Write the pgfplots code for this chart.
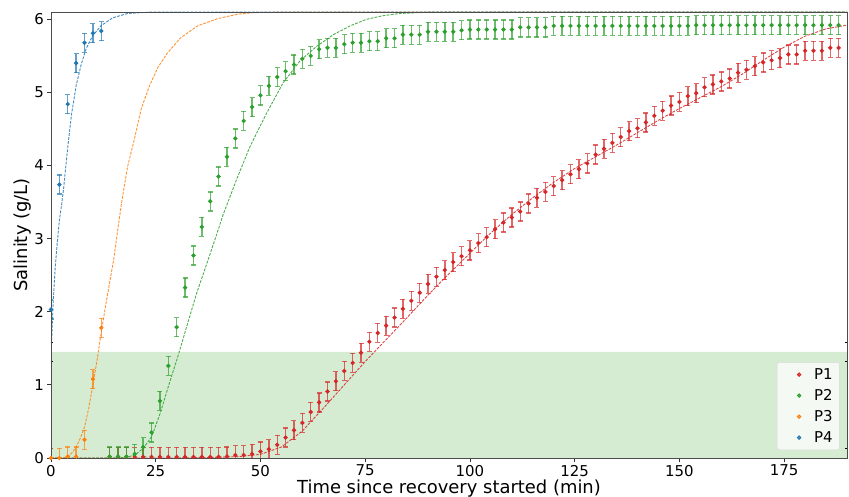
\documentclass[border=0pt]{standalone}
\usepackage{pgfplots}
\pgfplotsset{compat=1.18}
\usepackage{pgfplotstable}
\usepackage{fontspec}
\setmainfont{DejaVu Sans}
\definecolor{tabred}{HTML}{D62728}
\definecolor{tabgreen}{HTML}{2CA02C}
\definecolor{taborange}{HTML}{FF7F0E}
\definecolor{tabblue}{HTML}{1F77B4}
\definecolor{bandgreen}{RGB}{213,236,210}

\pgfplotstableread{
x y
14 0.015
16 0.015
18 0.015
20 0.015
22 0.015
24 0.015
26 0.015
28 0.015
30 0.015
32 0.015
34 0.015
36 0.015
38 0.015
40 0.015
42 0.02
44 0.04
46 0.04
48 0.055
50 0.09
52 0.12
54 0.18
56 0.28
58 0.38
60 0.48
62 0.63
64 0.76
66 0.91
68 1.05
70 1.19
72 1.30
74 1.44
76 1.59
78 1.71
80 1.81
82 1.92
84 2.04
86 2.15
88 2.26
90 2.38
92 2.48
94 2.57
96 2.68
98 2.76
100 2.84
102 2.94
104 3.02
106 3.13
108 3.22
110 3.29
112 3.37
114 3.48
116 3.56
118 3.64
120 3.72
122 3.80
124 3.88
126 3.95
128 4.03
130 4.15
132 4.23
134 4.31
136 4.39
138 4.47
140 4.51
142 4.59
144 4.68
146 4.75
148 4.82
150 4.87
152 4.95
154 4.99
156 5.07
158 5.11
160 5.15
162 5.19
164 5.27
166 5.31
168 5.36
170 5.41
172 5.44
174 5.47
176 5.52
178 5.52
180 5.57
182 5.57
184 5.57
186 5.61
188 5.61
}\pone

\pgfplotstableread{
x y
14 0.02
16 0.02
18 0.02
20 0.055
22 0.15
24 0.35
26 0.78
28 1.26
30 1.79
32 2.33
34 2.77
36 3.16
38 3.51
40 3.85
42 4.12
44 4.37
46 4.61
48 4.80
50 4.96
52 5.09
54 5.21
56 5.29
58 5.38
60 5.46
62 5.50
64 5.59
66 5.61
68 5.61
70 5.66
72 5.68
74 5.68
76 5.70
78 5.70
80 5.74
82 5.74
84 5.79
86 5.79
88 5.79
90 5.83
92 5.83
94 5.83
96 5.83
98 5.85
100 5.86
102 5.86
104 5.86
106 5.86
108 5.86
110 5.86
112 5.89
114 5.89
116 5.89
118 5.89
120 5.91
122 5.91
124 5.91
126 5.91
128 5.91
130 5.91
132 5.91
134 5.91
136 5.91
138 5.91
140 5.91
142 5.91
144 5.91
146 5.91
148 5.91
150 5.91
152 5.91
154 5.92
156 5.92
158 5.92
160 5.92
162 5.92
164 5.92
166 5.92
168 5.92
170 5.92
172 5.92
174 5.92
176 5.92
178 5.92
180 5.92
182 5.92
184 5.92
186 5.92
188 5.92
}\ptwo

\pgfplotstableread{
x y
0 0.0
2 0.0
4 0.02
6 0.02
8 0.25
10 1.08
12 1.78
}\pthree

\pgfplotstableread{
x y
0 2.03
2 3.74
4 4.84
6 5.40
8 5.68
10 5.81
12 5.84
}\pfour

\begin{document}
\begin{tikzpicture}
\useasboundingbox (-51bp,-39bp) rectangle (798bp,458bp);
\begin{axis}[
  at={(0,0)}, anchor=south west,
  scale only axis,
  width=796bp, height=446bp,
  xmin=0, xmax=190, ymin=0, ymax=6.1,
  xtick={0,25,50,75,100,125,150,175},
  ytick={0,1,2,3,4,5,6},
  xtick pos=left, ytick pos=left,
  tick align=outside,
  major tick length=3.5bp,
  tick style={black!80, line width=0.8bp},
  axis line style={black!70, line width=0.8bp},
  axis on top,
  /pgf/number format/assume math mode=true,
  ticklabel style={font=\fontsize{15}{18}\selectfont, text=black},
  xlabel={Time since recovery started (min)},
  ylabel={Salinity (g/L)},
  label style={font=\fontsize{18}{21}\selectfont, text=black},
  xlabel style={at={(axis description cs:0.5,0)}, anchor=base, yshift=-35bp},
  ylabel style={at={(axis description cs:-0.029,0.5)}, anchor=base},
  legend style={at={(axis description cs:0.991,0.018)}, anchor=south east,
    font=\fontsize{15}{18}\selectfont, draw=black!15, fill=white, fill opacity=0.75,
    text opacity=1, rounded corners=2.5bp, row sep=4.5bp, inner xsep=5bp, inner ysep=4bp},
  legend cell align=left,
  legend image code/.code={\path[draw=none, fill=none] (0bp,0bp) -- (30bp,0bp); \draw[#1, only marks] plot coordinates {(17bp,0bp)};},
  error bars/y dir=both, error bars/y fixed=0.13,
  every axis plot/.append style={line width=0.9bp},
]
\addplot[fill=bandgreen, draw=none, forget plot] coordinates {(0,0) (190,0) (190,1.45) (0,1.45)} \closedcycle;

% fitted curves
\addplot[tabred, dash pattern=on 2.8bp off 1.3bp, line width=0.9bp, opacity=0.85, forget plot, error bars/y dir=none] coordinates {
(0,0) (30,0) (40,0.01) (45,0.02) (50,0.05) (55,0.15) (60,0.37) (65,0.68) (70,1.0) (75,1.32) (80,1.62) (85,1.92) (90,2.23) (95,2.52) (100,2.8) (105,3.08) (110,3.33) (115,3.56) (120,3.77) (125,3.96) (130,4.12) (135,4.28) (140,4.45) (145,4.62) (150,4.78) (155,4.93) (160,5.08) (165,5.25) (170,5.44) (175,5.62) (180,5.77) (185,5.87) (190,5.92)};
\addplot[tabgreen, dash pattern=on 2.8bp off 1.3bp, line width=0.9bp, opacity=0.85, forget plot, error bars/y dir=none] coordinates {
(0,0) (15,0) (18,0.01) (20,0.04) (22,0.13) (24,0.29) (26,0.6) (28.4,1.05) (30.4,1.41) (32.4,1.8) (34.8,2.26) (37.2,2.66) (39.5,3.05) (41.1,3.33) (44.3,3.81) (47.5,4.26) (51.5,4.72) (55.4,5.13) (59.4,5.43) (63.4,5.63) (67.4,5.79) (71.4,5.91) (75.3,6.0) (79.3,6.05) (83.3,6.08) (91.2,6.1) (190,6.1)};
\addplot[taborange, dash pattern=on 2.8bp off 1.3bp, line width=0.9bp, opacity=0.85, forget plot, error bars/y dir=none] coordinates {
(0,0) (3,0) (4,0.02) (5,0.07) (6,0.15) (7,0.27) (8,0.42) (9,0.68) (10,1.0) (11,1.34) (12,1.72) (13,2.07) (14,2.4) (15,2.73) (16,3.15) (17,3.55) (18.3,3.99) (19.9,4.36) (21.5,4.77) (23.5,5.09) (25.5,5.34) (27.8,5.54) (31,5.75) (35,5.91) (39.8,6.01) (44.6,6.07) (48,6.09) (55,6.1) (190,6.1)};
\addplot[tabblue, dash pattern=on 2.8bp off 1.3bp, line width=0.9bp, opacity=0.85, forget plot, error bars/y dir=none] coordinates {
(0,1.39) (0.5,2.1) (1,2.6) (1.5,2.95) (2,3.25) (2.5,3.45) (3,3.68) (3.5,3.97) (4.1,4.3) (4.9,4.7) (6,5.09) (7.2,5.38) (8.4,5.6) (9.9,5.77) (11.9,5.91) (14.7,6.02) (18.3,6.08) (24,6.1) (190,6.1)};

% data with error bars
\addplot[tabred, only marks, mark=*, mark size=1.7bp,
  error bars/error bar style={line width=1.4bp, opacity=0.7},
  error bars/error mark options={line width=1.3bp, mark size=2.5bp, rotate=90}] table {\pone};
\addlegendentry{P1}
\addplot[tabgreen, only marks, mark=*, mark size=1.7bp,
  error bars/error bar style={line width=1.4bp, opacity=0.7},
  error bars/error mark options={line width=1.3bp, mark size=2.5bp, rotate=90}] table {\ptwo};
\addlegendentry{P2}
\addplot[taborange, only marks, mark=*, mark size=1.7bp,
  error bars/error bar style={line width=1.4bp, opacity=0.7},
  error bars/error mark options={line width=1.3bp, mark size=2.5bp, rotate=90}] table {\pthree};
\addlegendentry{P3}
\addplot[tabblue, only marks, mark=*, mark size=1.7bp,
  error bars/error bar style={line width=1.4bp, opacity=0.7},
  error bars/error mark options={line width=1.3bp, mark size=2.5bp, rotate=90}] table {\pfour};
\addlegendentry{P4}
\end{axis}
\end{tikzpicture}
\end{document}
